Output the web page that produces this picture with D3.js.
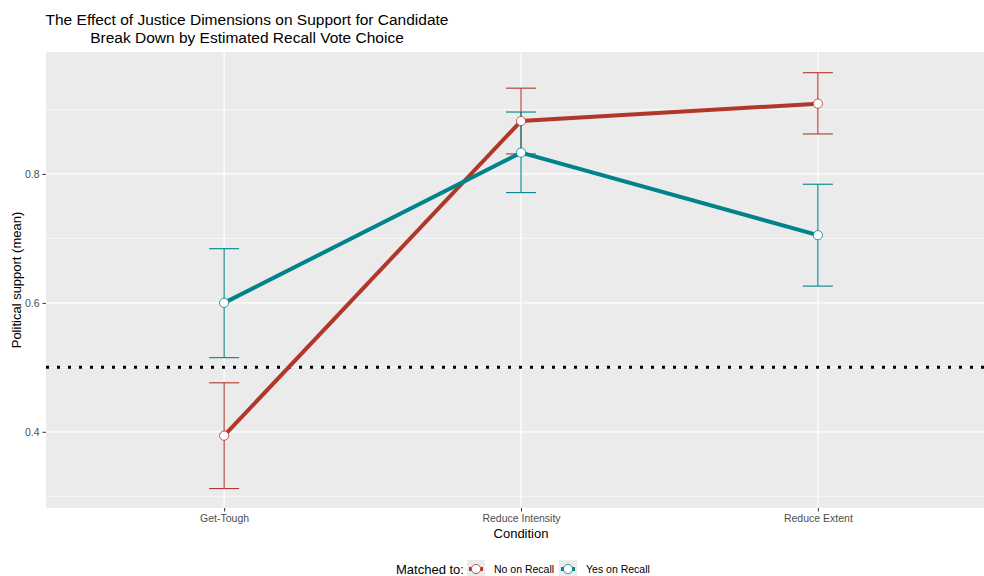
<!DOCTYPE html>
<html>
<head>
<meta charset="utf-8">
<script src="https://cdn.jsdelivr.net/npm/d3@7"></script>
<style>
  body { margin: 0; background: #fff; }
  text { font-family: "Liberation Sans", Arial, sans-serif; }
</style>
</head>
<body>
<svg id="chart" width="984" height="576"></svg>
<script>
// Conditions on the x axis
const conditions = ["Get-Tough", "Reduce Intensity", "Reduce Extent"];
// Group names
const groups = ["No on Recall", "Yes on Recall"];
// Mean support and confidence interval bounds per condition
const noMean  = [0.394, 0.882, 0.909];
const noLow   = [0.312, 0.831, 0.862];
const noHigh  = [0.476, 0.933, 0.957];
const yesMean = [0.600, 0.833, 0.705];
const yesLow  = [0.515, 0.771, 0.626];
const yesHigh = [0.684, 0.896, 0.784];
const yTicks = [0.4, 0.6, 0.8];
const yMinor = [0.3, 0.5, 0.7, 0.9];
const refLine = 0.5;
const colors = ["#B2372B", "#00838A"];

const series = [
  { name: groups[0], mean: noMean, low: noLow, high: noHigh, color: colors[0] },
  { name: groups[1], mean: yesMean, low: yesLow, high: yesHigh, color: colors[1] }
];

const svg = d3.select("#chart");
const panel = { left: 46, top: 52, right: 996, bottom: 508 };

const x = d3.scalePoint().domain(conditions)
  .range([panel.left, panel.right]).padding(0.6);
const y = d3.scaleLinear().domain([0.2818, 0.9891])
  .range([panel.bottom, panel.top]);

// Panel background
svg.append("rect")
  .attr("x", panel.left).attr("y", panel.top)
  .attr("width", panel.right - panel.left).attr("height", panel.bottom - panel.top)
  .attr("fill", "#EBEBEB");

// Grid lines
const grid = svg.append("g");
grid.selectAll(".minor").data(yMinor).join("line")
  .attr("x1", panel.left).attr("x2", panel.right)
  .attr("y1", d => y(d)).attr("y2", d => y(d))
  .attr("stroke", "#fff").attr("stroke-width", 0.6);
grid.selectAll(".major").data(yTicks).join("line")
  .attr("x1", panel.left).attr("x2", panel.right)
  .attr("y1", d => y(d)).attr("y2", d => y(d))
  .attr("stroke", "#fff").attr("stroke-width", 1.2);
grid.selectAll(".vmajor").data(conditions).join("line")
  .attr("x1", d => x(d)).attr("x2", d => x(d))
  .attr("y1", panel.top).attr("y2", panel.bottom)
  .attr("stroke", "#fff").attr("stroke-width", 1.2);

// Axes
const yAxis = svg.append("g")
  .attr("transform", `translate(${panel.left},0)`)
  .call(d3.axisLeft(y).tickValues(yTicks).tickFormat(d3.format(".1f")).tickSize(3.5).tickPadding(3));
const xAxis = svg.append("g")
  .attr("transform", `translate(0,${panel.bottom})`)
  .call(d3.axisBottom(x).tickSize(3.5).tickPadding(3));
[yAxis, xAxis].forEach(a => {
  a.select(".domain").remove();
  a.selectAll(".tick line").attr("stroke", "#333").attr("stroke-width", 1);
  a.selectAll(".tick text").attr("fill", "#4D4D4D").style("font-size", "10.5px")
    .style("font-family", "Liberation Sans, Arial, sans-serif");
});

// Error bars
const capHalf = 15;
series.forEach(s => {
  const g = svg.append("g");
  conditions.forEach((c, i) => {
    g.append("line")
      .attr("x1", x(c)).attr("x2", x(c))
      .attr("y1", y(s.low[i])).attr("y2", y(s.high[i]))
      .attr("stroke", s.color).attr("stroke-width", 1.1);
    [s.low[i], s.high[i]].forEach(v => {
      g.append("line")
        .attr("x1", x(c) - capHalf).attr("x2", x(c) + capHalf)
        .attr("y1", y(v)).attr("y2", y(v))
        .attr("stroke", s.color).attr("stroke-width", 1.1);
    });
  });
});

// Reference line
svg.append("line")
  .attr("x1", panel.left).attr("x2", panel.right)
  .attr("y1", y(refLine)).attr("y2", y(refLine))
  .attr("stroke", "#000").attr("stroke-width", 3)
  .attr("stroke-dasharray", "3 8");

// Mean lines and points
const line = d3.line().x((d, i) => x(conditions[i])).y(d => y(d));
series.forEach(s => {
  svg.append("path").datum(s.mean)
    .attr("d", line).attr("fill", "none")
    .attr("stroke", s.color).attr("stroke-width", 4);
});
series.forEach(s => {
  svg.append("g").selectAll("circle").data(s.mean).join("circle")
    .attr("cx", (d, i) => x(conditions[i])).attr("cy", d => y(d))
    .attr("r", 4.6).attr("fill", "#fff")
    .attr("stroke", s.color).attr("stroke-width", 0.8);
});

// Clip anything beyond the canvas edge is fine; titles
svg.append("text")
  .attr("x", 247).attr("y", 25)
  .attr("text-anchor", "middle").style("font-size", "15.5px").attr("fill", "#000")
  .selectAll("tspan").data([
    "The Effect of Justice Dimensions on Support for Candidate",
    "Break Down by Estimated Recall Vote Choice"
  ]).join("tspan")
  .attr("x", 247).attr("dy", (d, i) => i === 0 ? 0 : 18).text(d => d);

svg.append("text")
  .attr("x", (x(conditions[0]) + x(conditions[2])) / 2).attr("y", 538)
  .attr("text-anchor", "middle").style("font-size", "13px").text("Condition");

svg.append("text")
  .attr("transform", `translate(21,${(panel.top + panel.bottom) / 2}) rotate(-90)`)
  .attr("text-anchor", "middle").style("font-size", "13px").text("Political support (mean)");

// Legend
const legend = svg.append("g").attr("transform", "translate(0,569)");
legend.append("text").attr("x", 396).attr("y", 5)
  .style("font-size", "13px").text("Matched to:");
const keyX = [467, 559];
series.forEach((s, i) => {
  const kx = keyX[i];
  legend.append("rect").attr("x", kx).attr("y", -9).attr("width", 18).attr("height", 18)
    .attr("fill", "#EBEBEB");
  legend.append("line").attr("x1", kx + 2).attr("x2", kx + 16).attr("y1", 0).attr("y2", 0)
    .attr("stroke", s.color).attr("stroke-width", 4);
  legend.append("circle").attr("cx", kx + 9).attr("cy", 0).attr("r", 4.6)
    .attr("fill", "#fff").attr("stroke", s.color).attr("stroke-width", 0.8);
  legend.append("text").attr("x", kx + 27).attr("y", 4)
    .style("font-size", "10.5px").text(s.name);
});
</script>
</body>
</html>
